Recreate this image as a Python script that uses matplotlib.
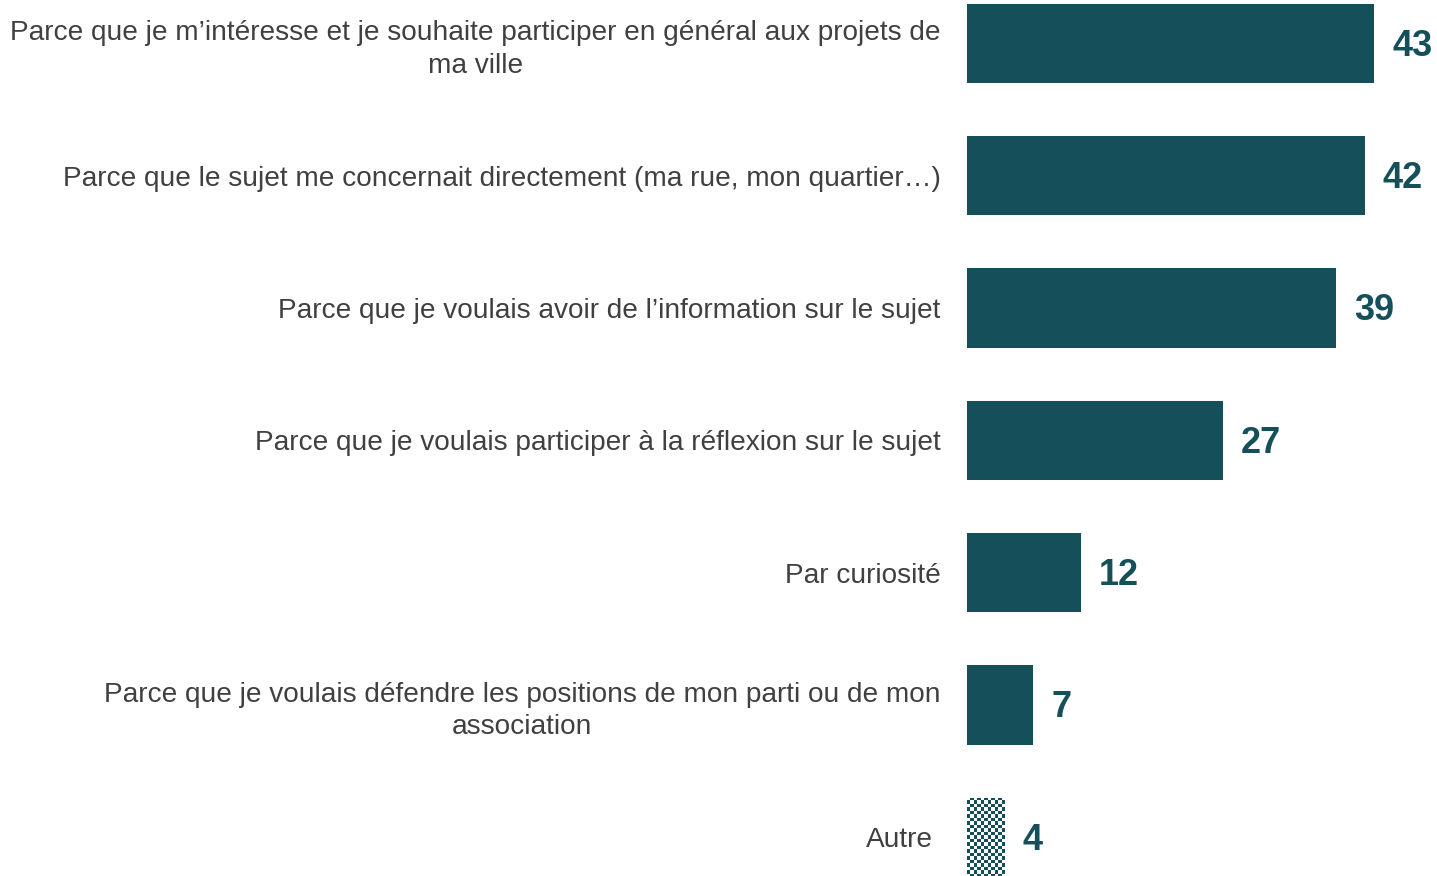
import matplotlib
matplotlib.use('Agg')
import matplotlib.pyplot as plt
import matplotlib.transforms as mtransforms
import numpy as np
from matplotlib.colors import ListedColormap

categories = [
    "Parce que je m\u2019int\u00e9resse et je souhaite participer en g\u00e9n\u00e9ral aux projets de\nma ville",
    "Parce que le sujet me concernait directement (ma rue, mon quartier\u2026)",
    "Parce que je voulais avoir de l\u2019information sur le sujet",
    "Parce que je voulais participer \u00e0 la r\u00e9flexion sur le sujet",
    "Par curiosit\u00e9",
    "Parce que je voulais d\u00e9fendre les positions de mon parti ou de mon\nassociation",
    "Autre",
]
values = [43, 42, 39, 27, 12, 7, 4]

teal = '#15505a'
plt.rcParams['font.family'] = ['Liberation Sans', 'DejaVu Sans']

fig = plt.figure(figsize=(14.37, 8.76), dpi=100)
ax = fig.add_axes([967/1437, 0, 1 - 967/1437, 1])

ypos = list(range(len(values)))
bars = ax.barh(ypos, values, height=0.6, color=teal)

xlim = (0, 470 / 9.47)
ylim = ((876 - 43.5) / 132.3, -43.5 / 132.3)
ax.set_xlim(*xlim)
ax.set_ylim(*ylim)

# checkered fill for the "Autre" bar
last = bars[-1]
last.set_facecolor('white')
x0, y0 = last.get_x(), last.get_y()
w, h = last.get_width(), last.get_height()
fig.canvas.draw()
p0 = ax.transData.transform((x0, y0))
p1 = ax.transData.transform((x0 + w, y0 + h))
cell = 3.5
nx = max(1, int(round(abs(p1[0] - p0[0]) / cell)))
ny = max(1, int(round(abs(p1[1] - p0[1]) / cell)))
checker = (np.add.outer(np.arange(ny), np.arange(nx)) % 2).astype(float)
im = ax.imshow(checker, extent=(x0, x0 + w, y0 + h, y0), cmap=ListedColormap(['white', teal]),
               interpolation='nearest', aspect='auto', zorder=3)
im.set_clip_path(last)
ax.set_xlim(*xlim)
ax.set_ylim(*ylim)

ax.set_yticks(ypos)
ax.set_yticklabels(categories, fontsize=20.2, color='#404040', multialignment='center',
                   linespacing=1.32)
ax.tick_params(axis='y', length=0, pad=19)
ax.set_xticks([])
lbl = ax.get_yticklabels()[-1]
lbl.set_transform(lbl.get_transform() + mtransforms.ScaledTranslation(-0.08, 0, fig.dpi_scale_trans))

for y, v in zip(ypos, values):
    ax.annotate(str(v), (v, y), xytext=(13, -2), textcoords='offset points',
                ha='left', va='center', fontsize=26, fontweight='bold', color=teal)

for s in ax.spines.values():
    s.set_visible(False)

fig.savefig('out.png', dpi=100)
